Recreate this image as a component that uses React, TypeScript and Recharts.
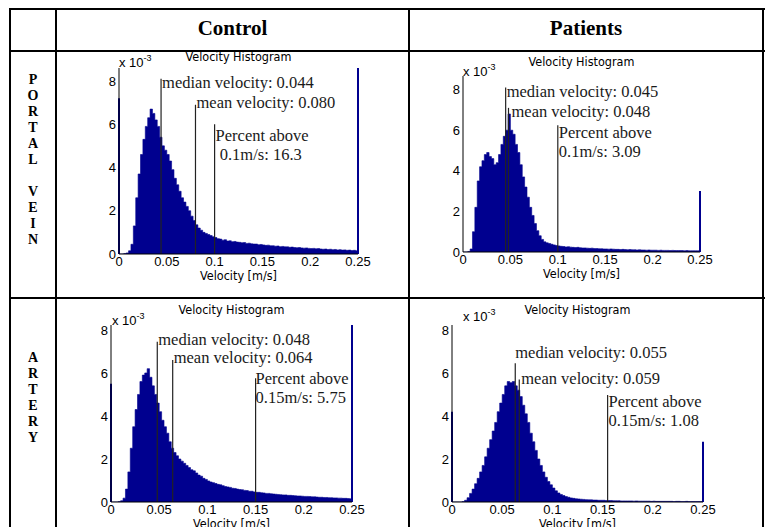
import React from 'react';
import { ComposedChart, Area, XAxis, YAxis, ReferenceLine } from 'recharts';

// histogram bins: 0.0025 m/s wide, from 0 to 0.25 m/s; counts in units of 1e-3
const binWidth = 0.0025;
const velocityTicks = [0, 0.05, 0.1, 0.15, 0.2, 0.25];
const countTicks = [0, 2, 4, 6, 8];

const controlPortal = [
  0, 0, 0.02, 0.05, 0.15, 0.45, 1.3, 2.6, 3.7, 4.6,
  5.3, 5.9, 6.3, 6.7, 6.5, 6.2, 5.9, 5.4, 5.0, 4.8,
  4.6, 4.3, 3.9, 3.5, 3.2, 2.9, 2.6, 2.4, 2.2, 2.0,
  1.75, 1.55, 1.35, 1.2, 1.1, 1.0, 0.95, 0.9, 0.85, 0.8,
  0.76, 0.71, 0.69, 0.64, 0.66, 0.6, 0.61, 0.57, 0.58, 0.55,
  0.54, 0.52, 0.53, 0.49, 0.5, 0.47, 0.46, 0.46, 0.43, 0.44,
  0.42, 0.4, 0.41, 0.38, 0.38, 0.36, 0.37, 0.34, 0.35, 0.33,
  0.33, 0.31, 0.32, 0.3, 0.29, 0.3, 0.28, 0.27, 0.28, 0.26,
  0.25, 0.26, 0.24, 0.25, 0.23, 0.22, 0.23, 0.21, 0.22, 0.2,
  0.21, 0.19, 0.2, 0.18, 0.19, 0.17, 0.18, 0.16, 0.17, 0.15,
];
const patientPortal = [
  0, 0, 0.02, 0.15, 1.0, 2.2, 3.5, 4.2, 4.5, 4.8,
  4.9, 4.7, 4.6, 4.3, 4.4, 4.8, 5.3, 5.7, 6.0, 6.8,
  6.0, 5.8, 5.3, 4.9, 4.3, 3.7, 3.2, 2.7, 2.2, 1.8,
  1.4, 1.05, 0.8, 0.62, 0.5, 0.45, 0.42, 0.38, 0.35, 0.32,
  0.3, 0.28, 0.27, 0.25, 0.26, 0.24, 0.23, 0.22, 0.23, 0.21,
  0.2, 0.2, 0.19, 0.18, 0.19, 0.17, 0.17, 0.16, 0.16, 0.15,
  0.15, 0.14, 0.15, 0.14, 0.13, 0.13, 0.12, 0.13, 0.12, 0.11,
  0.12, 0.11, 0.11, 0.1, 0.11, 0.1, 0.1, 0.09, 0.1, 0.09,
  0.09, 0.09, 0.08, 0.09, 0.08, 0.08, 0.08, 0.07, 0.08, 0.07,
  0.07, 0.07, 0.07, 0.06, 0.07, 0.06, 0.06, 0.06, 0.06, 0.06,
];
const controlArtery = [
  0, 0, 0, 0.02, 0.06, 0.18, 0.6, 1.4, 2.5, 3.5,
  4.3, 5.0, 5.6, 5.9, 6.0, 6.2, 5.8, 5.4, 5.0, 4.6,
  4.2, 3.8, 3.5, 3.2, 2.8, 2.5, 2.3, 2.15, 2.0, 1.9,
  1.8, 1.7, 1.6, 1.5, 1.45, 1.35, 1.25, 1.2, 1.1, 1.05,
  0.98, 0.93, 0.9, 0.86, 0.82, 0.8, 0.76, 0.72, 0.7, 0.68,
  0.64, 0.63, 0.6, 0.58, 0.57, 0.54, 0.53, 0.5, 0.5, 0.47,
  0.45, 0.45, 0.43, 0.42, 0.4, 0.4, 0.38, 0.37, 0.36, 0.35,
  0.34, 0.33, 0.33, 0.31, 0.31, 0.3, 0.29, 0.28, 0.28, 0.27,
  0.26, 0.26, 0.25, 0.24, 0.24, 0.23, 0.22, 0.22, 0.21, 0.21,
  0.2, 0.2, 0.19, 0.19, 0.18, 0.18, 0.17, 0.17, 0.16, 0.15,
];
const patientArtery = [
  0, 0, 0, 0, 0.02, 0.08, 0.2, 0.4, 0.6, 0.85,
  1.1, 1.4, 1.7, 2.1, 2.5, 2.9, 3.3, 3.7, 4.2, 4.6,
  5.0, 5.4, 5.6, 5.55, 5.6, 5.4, 5.2, 4.9, 4.5, 4.1,
  3.7, 3.2, 2.8, 2.4, 2.0, 1.7, 1.4, 1.15, 0.95, 0.8,
  0.65, 0.52, 0.42, 0.35, 0.3, 0.25, 0.22, 0.19, 0.17, 0.15,
  0.14, 0.13, 0.12, 0.11, 0.1, 0.1, 0.09, 0.09, 0.08, 0.08,
  0.08, 0.07, 0.07, 0.07, 0.06, 0.06, 0.06, 0.05, 0.05, 0.05,
  0.05, 0.05, 0.04, 0.05, 0.04, 0.04, 0.04, 0.04, 0.04, 0.03,
  0.04, 0.03, 0.03, 0.03, 0.03, 0.03, 0.03, 0.03, 0.02, 0.03,
  0.03, 0.02, 0.02, 0.03, 0.02, 0.02, 0.02, 0.02, 0.02, 0.02,
];

// end bins at 0 and 0.25 m/s (values outside the range pile up there)
const controlPortalEdges = [7.2, 8.6];
const patientPortalEdges = [0, 3.0];
const controlArteryEdges = [5.5, 8.23];
const patientArteryEdges = [4.2, 2.8];

// marker lines: velocity, height of the line, text
const controlPortalStats = [
  { x: 0.044, top: 8.1, text: ['median velocity: 0.044'] },
  { x: 0.08, top: 6.9, text: ['mean velocity: 0.080'] },
  { x: 0.1, top: 6.0, text: ['Percent above', ' 0.1m/s: 16.3'] },
];
const patientPortalStats = [
  { x: 0.045, top: 8.1, text: ['median velocity: 0.045'] },
  { x: 0.048, top: 7.1, text: ['mean velocity: 0.048'] },
  { x: 0.1, top: 6.25, text: ['Percent above', '0.1m/s: 3.09'] },
];
const controlArteryStats = [
  { x: 0.048, top: 7.45, text: ['median velocity: 0.048'] },
  { x: 0.064, top: 6.6, text: ['mean velocity: 0.064'] },
  { x: 0.15, top: 5.75, text: ['Percent above', '0.15m/s: 5.75'] },
];
const patientArteryStats = [
  { x: 0.063, top: 6.45, text: ['median velocity: 0.055'] },
  { x: 0.067, top: 5.7, text: ['mean velocity: 0.059'] },
  { x: 0.155, top: 4.97, text: ['Percent above', '0.15m/s: 1.08'] },
];

const SERIF = "'Liberation Serif', 'Times New Roman', serif";
const SANS = "'Liberation Sans', Arial, sans-serif";
const NARROW = "'DejaVu Sans Condensed', 'Liberation Sans Narrow', sans-serif";
const NAVY = '#00008f';

// text offsets (px) from the top of each marker line
const labelOffsets = {
  tl: [{ dx: 1, dy: 9 }, { dx: 1, dy: 3 }, { dx: 1, dy: 17 }],
  tr: [{ dx: 1, dy: 9 }, { dx: 3, dy: 9 }, { dx: 1, dy: 13 }],
  bl: [{ dx: 1, dy: 3 }, { dx: 1, dy: 3 }, { dx: 0, dy: 6 }],
  br: [{ dx: 0, dy: -5 }, { dx: 2, dy: 5 }, { dx: 1, dy: 12 }],
};

const panels = [
  { id: 'tl', counts: controlPortal, edges: controlPortalEdges, stats: controlPortalStats,
    box: { left: 119, top: 68, width: 239, height: 186 }, yTop: 8.6, titleY: 57, expY: 63, expX: 119 },
  { id: 'tr', counts: patientPortal, edges: patientPortalEdges, stats: patientPortalStats,
    box: { left: 463, top: 76, width: 237, height: 176 }, yTop: 8.67, titleY: 62, expY: 72, expX: 463 },
  { id: 'bl', counts: controlArtery, edges: controlArteryEdges, stats: controlArteryStats,
    box: { left: 111, top: 325, width: 241, height: 177 }, yTop: 8.23, titleY: 310, expY: 321, expX: 112 },
  { id: 'br', counts: patientArtery, edges: patientArteryEdges, stats: patientArteryStats,
    box: { left: 452, top: 325, width: 251, height: 177 }, yTop: 8.23, titleY: 310, expY: 317, expX: 463 },
];

const StatLabel = (props: any) => {
  const { viewBox, text, dx, dy } = props;
  if (!viewBox) return null;
  const x = viewBox.x + dx;
  const y = viewBox.y + dy;
  return (
    <text x={x} y={y} fill="#1a1a1a" fontSize={16.5} fontFamily={SERIF} style={{ whiteSpace: 'pre' }}>
      {text.map((t: string, i: number) => (
        <tspan key={i} x={x} y={y + i * 19}>{t}</tspan>
      ))}
    </text>
  );
};

const PAD_TOP = 10;

const HistogramPanel = ({ p }: { p: any }) => {
  // each row is a bin's left edge; the step area holds the value to the next edge
  const rows = p.counts.map((c: number, i: number) => ({ v: i * binWidth, count: c }));
  rows.push({ v: p.counts.length * binWidth, count: p.counts[p.counts.length - 1] });
  const { left, top, width, height } = p.box;
  const offsets = labelOffsets[p.id as keyof typeof labelOffsets];
  const tickStyle = { fontSize: 13, fill: '#000', fontFamily: SANS };
  return (
    <>
      <div style={{ position: 'absolute', left, width, top: p.titleY - 8, lineHeight: '16px',
        textAlign: 'center', fontFamily: NARROW, fontSize: 12.5, color: '#000' }}>
        Velocity Histogram
      </div>
      <div style={{ position: 'absolute', left: p.expX, top: p.expY - 7, lineHeight: '14px',
        fontFamily: SANS, fontSize: 13, color: '#000', whiteSpace: 'nowrap' }}>
        x 10<span style={{ fontSize: 9, position: 'relative', top: -6 }}>-3</span>
      </div>
      <div style={{ position: 'absolute', left, width, top: top + height + 15, lineHeight: '14px',
        textAlign: 'center', fontFamily: NARROW, fontSize: 12.5, color: '#000' }}>
        Velocity [m/s]
      </div>
      <div style={{ position: 'absolute', left: left - 40, top: top - PAD_TOP }}>
        <ComposedChart width={width + 62} height={height + 20 + PAD_TOP} data={rows}
          margin={{ top: PAD_TOP, right: 22, bottom: 0, left: 0 }}>
          <XAxis xAxisId="v" dataKey="v" type="number" domain={[0, 0.25]} allowDataOverflow
            ticks={velocityTicks} interval={0} height={20} tickLine={false}
            axisLine={{ stroke: '#000' }} tickSize={2} tickMargin={1} tick={tickStyle}
            tickFormatter={(t: number) => String(t)} />
          <XAxis xAxisId="vb" type="number" domain={[0, 0.25]} allowDataOverflow ticks={velocityTicks}
            interval={0} orientation="bottom" mirror height={0} tick={false} axisLine={false}
            tickSize={3} stroke="#000" />
          <XAxis xAxisId="vt" type="number" domain={[0, 0.25]} allowDataOverflow ticks={velocityTicks}
            interval={0} orientation="top" mirror height={0} tick={false}
            axisLine={{ stroke: '#000' }} tickSize={3} stroke="#000" />
          <YAxis yAxisId="c" type="number" domain={[0, p.yTop]} allowDataOverflow ticks={countTicks}
            interval={0} width={40} tickLine={false} axisLine={{ stroke: '#000' }}
            tickSize={2} tickMargin={1} tick={tickStyle} />
          <YAxis yAxisId="cl" type="number" domain={[0, p.yTop]} allowDataOverflow ticks={countTicks}
            interval={0} mirror width={0} tick={false} axisLine={false} tickSize={3} stroke="#000" />
          <YAxis yAxisId="cr" type="number" domain={[0, p.yTop]} allowDataOverflow ticks={countTicks}
            interval={0} orientation="right" mirror width={0} tick={false}
            axisLine={{ stroke: '#000' }} tickSize={3} stroke="#000" />
          <Area xAxisId="v" yAxisId="c" type="stepAfter" dataKey="count" fill={NAVY} fillOpacity={1}
            stroke={NAVY} strokeWidth={0.6} dot={false} activeDot={false} isAnimationActive={false} />
          <ReferenceLine xAxisId="v" yAxisId="c" stroke={NAVY} strokeWidth={2}
            segment={[{ x: 0, y: 0 }, { x: 0, y: p.edges[0] }]} />
          <ReferenceLine xAxisId="v" yAxisId="c" stroke={NAVY} strokeWidth={2}
            segment={[{ x: 0.25, y: 0 }, { x: 0.25, y: p.edges[1] }]} />
          {p.stats.map((s: any, i: number) => (
            <ReferenceLine key={i} xAxisId="v" yAxisId="c" stroke="#222" strokeWidth={1.2}
              segment={[{ x: s.x, y: 0 }, { x: s.x, y: s.top }]}
              label={<StatLabel text={s.text} dx={offsets[i].dx} dy={offsets[i].dy} />} />
          ))}
        </ComposedChart>
      </div>
    </>
  );
};

const hLine = (top: number, left: number, width: number) => (
  <div style={{ position: 'absolute', left, top: top - 1, width, height: 2, background: '#000' }} />
);
const vLine = (left: number, top: number, height: number) => (
  <div style={{ position: 'absolute', left: left - 1, top, width: 2, height, background: '#000' }} />
);

const RowLabel = ({ letters, top }: { letters: string[]; top: number }) => (
  <div style={{ position: 'absolute', left: 10, width: 46, top, textAlign: 'center',
    fontFamily: SERIF, fontWeight: 'bold', fontSize: 14, lineHeight: '16px', color: '#000' }}>
    {letters.map((l, i) => (<div key={i} style={{ height: 16 }}>{l}</div>))}
  </div>
);

export default function App() {
  return (
    <div style={{ position: 'absolute', left: 0, top: 0, width: 771, height: 527,
      overflow: 'hidden', background: '#fff' }}>
      {hLine(9, 9, 756)}
      {hLine(51, 9, 756)}
      {hLine(298, 9, 756)}
      {vLine(10, 8, 530)}
      {vLine(56, 8, 530)}
      {vLine(409, 8, 530)}
      {vLine(763, 8, 530)}
      <div style={{ position: 'absolute', left: 56, width: 353, top: 15, textAlign: 'center',
        fontFamily: SERIF, fontWeight: 'bold', fontSize: 21, lineHeight: '26px' }}>Control</div>
      <div style={{ position: 'absolute', left: 409, width: 354, top: 15, textAlign: 'center',
        fontFamily: SERIF, fontWeight: 'bold', fontSize: 21, lineHeight: '26px' }}>Patients</div>
      <RowLabel letters={['P', 'O', 'R', 'T', 'A', 'L', '', 'V', 'E', 'I', 'N']} top={72} />
      <RowLabel letters={['A', 'R', 'T', 'E', 'R', 'Y']} top={350} />
      {panels.map((p) => (<HistogramPanel key={p.id} p={p} />))}
    </div>
  );
}
